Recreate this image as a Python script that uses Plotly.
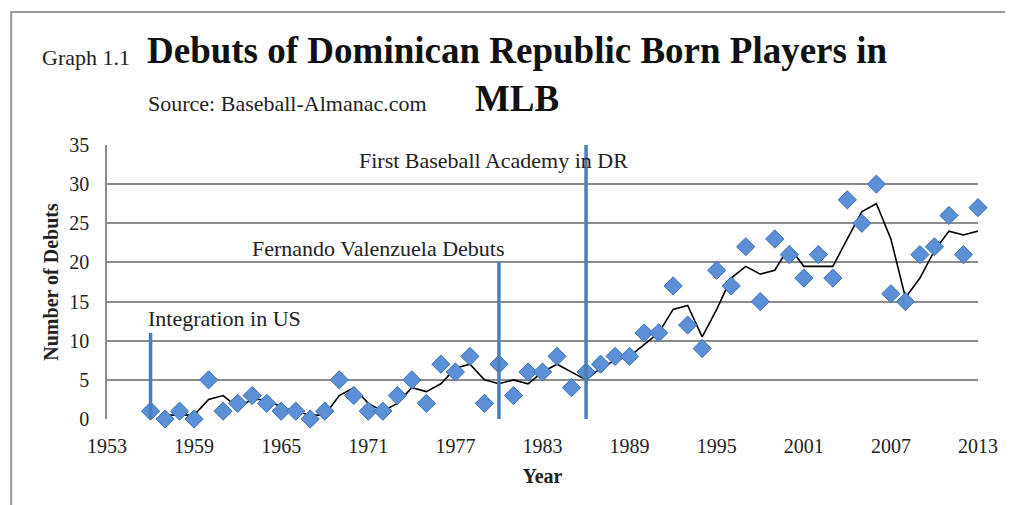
import pandas as pd
import plotly.graph_objects as go

# Debuts per year
years = list(range(1956, 2014))
debuts = [1, 0, 1, 0, 5, 1, 2, 3, 2, 1,
          1, 0, 1, 5, 3, 1, 1, 3, 5, 2,
          7, 6, 8, 2, 7, 3, 6, 6, 8, 4,
          6, 7, 8, 8, 11, 11, 17, 12, 9, 19,
          17, 22, 15, 23, 21, 18, 21, 18, 28, 25,
          30, 16, 15, 21, 22, 26, 21, 27]

# key events marked with vertical lines
event_labels = ["Integration in US", "Fernando Valenzuela Debuts", "First Baseball Academy in DR"]
event_years = [1956, 1980, 1986]
event_tops = [11, 20, 35.8]

tick_years = [1953, 1959, 1965, 1971, 1977, 1983, 1989, 1995, 2001, 2007, 2013]

df = pd.DataFrame({"Year": years, "Debuts": debuts})
# Excel-style 2 period moving average trendline
df["MA"] = df["Debuts"].rolling(2).mean()

serif = "Liberation Serif"
blue = "#4a7ebb"
txt_col = "#222"

fig = go.Figure()

fig.add_trace(go.Scatter(x=df["Year"], y=df["MA"], mode="lines",
                         line=dict(color="black", width=1.6),
                         hoverinfo="skip"))

fig.add_trace(go.Scatter(x=df["Year"], y=df["Debuts"], mode="markers",
                         marker=dict(symbol="diamond", size=14, color="#5b8fd6",
                                     line=dict(color="#3f72b5", width=1)),
                         cliponaxis=False))

# vertical event lines, running below the axis
for yr, top in zip(event_years, event_tops):
    fig.add_shape(type="line", xref="x", yref="y", x0=yr, x1=yr, y0=-4.6, y1=top,
                  line=dict(color=blue, width=3.5), layer="above")

label_pos = [(1955.7, 12.8), (1962.85, 21.8), (1970.2, 33.0)]
for txt, (lx, ly) in zip(event_labels, label_pos):
    fig.add_annotation(x=lx, y=ly, text=txt, showarrow=False, xanchor="left",
                       yanchor="middle", font=dict(family=serif, size=22, color=txt_col))

# outer frame
fig.add_shape(type="rect", xref="paper", yref="paper", x0=-0.11, x1=1.2,
              y0=-0.6, y1=1.485, line=dict(color="#999", width=2), layer="below")

# title block
fig.add_annotation(xref="paper", yref="paper", x=0.4707, y=1.2555,
                   text="<b>Debuts of Dominican Republic Born Players in<br>MLB</b>",
                   showarrow=False, xanchor="center", yanchor="middle",
                   font=dict(family=serif, size=37, color="#111"))
fig.add_annotation(xref="paper", yref="paper", x=-0.077, y=1.321, text="Graph 1.1",
                   showarrow=False, xanchor="left", yanchor="middle",
                   font=dict(family=serif, size=22, color=txt_col))
fig.add_annotation(xref="paper", yref="paper", x=0.0448, y=1.153,
                   text="Source: Baseball-Almanac.com", showarrow=False,
                   xanchor="left", yanchor="middle",
                   font=dict(family=serif, size=22, color=txt_col))

# the page body adds 8px around the figure, so the figure is 8px smaller
fig.update_layout(
    width=1005, height=497,
    margin=dict(l=99, r=35, t=137, b=86),
    paper_bgcolor="white", plot_bgcolor="white",
    showlegend=False,
    xaxis=dict(range=[1953, 2013], tickvals=tick_years, showgrid=False,
               zeroline=False, showline=False, automargin=False,
               ticks="outside", ticklen=9, tickcolor="rgba(0,0,0,0)",
               tickfont=dict(family=serif, size=20, color=txt_col),
               title=dict(text="<b>Year</b>", standoff=12,
                          font=dict(family=serif, size=20, color=txt_col))),
    yaxis=dict(range=[0, 35], dtick=5, showgrid=True, gridcolor="#8c8c8c",
               gridwidth=1.5, zeroline=False, showline=True, linecolor="#8c8c8c",
               linewidth=1.5, automargin=False,
               ticks="outside", ticklen=12, tickcolor="rgba(0,0,0,0)",
               tickfont=dict(family=serif, size=20, color=txt_col),
               title=dict(text="<b>Number of Debuts</b>", standoff=5,
                          font=dict(family=serif, size=20, color=txt_col))),
)

fig.write_html("out.html")
